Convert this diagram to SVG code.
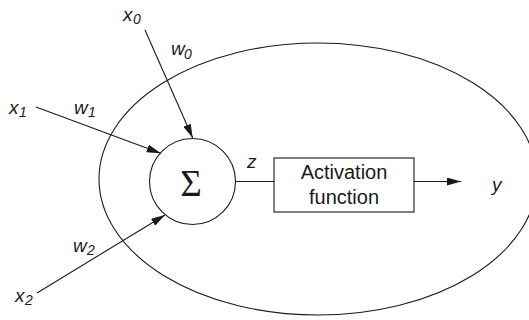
<svg xmlns="http://www.w3.org/2000/svg" width="529" height="320" viewBox="0 0 529 320">
<style>
.ln{stroke:#1a1a1a;stroke-width:1.1;fill:none}
.v{font-family:"Liberation Sans",Arial,sans-serif;font-style:italic;font-size:19px;fill:#1a1a1a}
.s{font-size:14px}
.t{font-family:"Liberation Sans",Arial,sans-serif;font-size:20px;fill:#1a1a1a;text-anchor:middle}
.sig{font-family:"Liberation Serif","Times New Roman",serif;font-size:37px;fill:#1a1a1a;text-anchor:middle}
</style>
<defs>
<marker id="ah" viewBox="0 0 14 8" refX="14" refY="4" markerWidth="14" markerHeight="8" markerUnits="userSpaceOnUse" orient="auto">
<path d="M0,0 L14,4 L0,8 z" fill="#1a1a1a"/>
</marker>
</defs>
<rect width="529" height="320" fill="#fff"/>
<g id="neuron-boundary">
<ellipse cx="318" cy="179" rx="219" ry="136" class="ln"/>
</g>
<g id="connectors">
<line x1="145" y1="30" x2="192.7" y2="138" class="ln" marker-end="url(#ah)"/>
<line x1="36" y1="107" x2="160.7" y2="153.3" class="ln" marker-end="url(#ah)"/>
<line x1="37" y1="293" x2="165" y2="215" class="ln" marker-end="url(#ah)"/>
<line x1="235.5" y1="181.5" x2="274" y2="181.5" class="ln"/>
<line x1="414" y1="181.5" x2="461" y2="181.5" class="ln" marker-end="url(#ah)"/>
</g>
<g id="sum">
<circle cx="192.5" cy="181.5" r="43" class="ln"/>
<text x="191" y="196" class="sig">Σ</text>
</g>
<g id="activation">
<rect x="274" y="158" width="140" height="54" class="ln"/>
<text x="344" y="179" class="t">Activation</text>
<text x="344" y="204" class="t">function</text>
</g>
<g id="labels">
<text class="v" x="123" y="21">x<tspan class="s" x="133" y="24">0</tspan></text>
<text class="v" x="171" y="55">w<tspan class="s" x="184" y="59">0</tspan></text>
<text class="v" x="9" y="114">x<tspan class="s" x="19" y="117">1</tspan></text>
<text class="v" x="74" y="114">w<tspan class="s" x="88" y="117">1</tspan></text>
<text class="v" x="73" y="252">w<tspan class="s" x="87" y="255">2</tspan></text>
<text class="v" x="15" y="302">x<tspan class="s" x="25" y="305">2</tspan></text>
<text class="v" x="247" y="168">z</text>
<text class="v" x="492" y="191">y</text>
</g>
</svg>
